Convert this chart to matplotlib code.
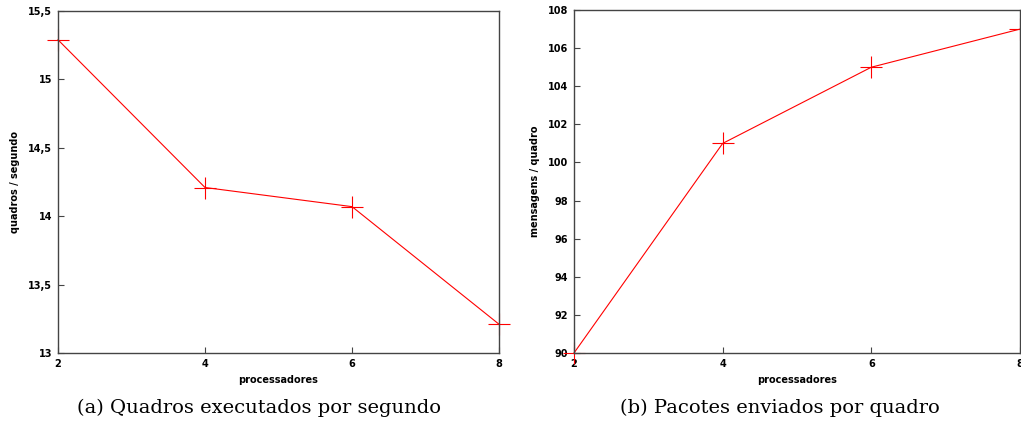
import numpy as np
import matplotlib.pyplot as plt

procs = [2, 4, 6, 8]
quadros = [15.29, 14.21, 14.07, 13.21]
mensagens = [90, 101, 105, 107]

yticks_a = [13, 13.5, 14, 14.5, 15, 15.5]
yticks_b = [90, 92, 94, 96, 98, 100, 102, 104, 106, 108]


def fmt(v):
    s = f"{v:g}"
    return s.replace(".", ",")


def style(ax):
    for sp in ax.spines.values():
        sp.set_color("#444444")
        sp.set_linewidth(1.0)
    ax.tick_params(direction="in", length=4, width=0.8, color="#444444",
                   labelsize=7, pad=4)
    for lab in ax.get_xticklabels() + ax.get_yticklabels():
        lab.set_fontweight("bold")


fig = plt.figure(figsize=(10.21, 4.26), dpi=100)
ax1 = fig.add_axes([0.0568, 0.1714, 0.432, 0.8026])
ax2 = fig.add_axes([0.5622, 0.1714, 0.4368, 0.805])

# (a)
ax1.plot(procs, quadros, color="red", lw=0.8, marker="+", ms=16, mew=0.8,
         clip_on=False)
ax1.set_xlim(2, 8)
ax1.set_ylim(13, 15.5)
ax1.set_xticks(procs)
ax1.set_yticks(yticks_a)
ax1.set_yticklabels([fmt(v) for v in yticks_a])
ax1.set_xlabel("processadores", fontsize=7, fontweight="bold", labelpad=5)
ax1.set_ylabel("quadros / segundo", fontsize=7, fontweight="bold", labelpad=6)
style(ax1)

# (b)
ax2.plot(procs, mensagens, color="red", lw=0.8, marker="+", ms=16, mew=0.8,
         clip_on=False)
ax2.set_xlim(2, 8)
ax2.set_ylim(90, 108)
ax2.set_xticks(procs)
ax2.set_yticks(yticks_b)
ax2.set_xlabel("processadores", fontsize=7, fontweight="bold", labelpad=5)
ax2.set_ylabel("mensagens / quadro", fontsize=7, fontweight="bold", labelpad=6)
style(ax2)

fig.text(0.2537, 0.03, "(a) Quadros executados por segundo", ha="center",
         fontsize=14, family="DejaVu Serif")
fig.text(0.764, 0.03, "(b) Pacotes enviados por quadro", ha="center",
         fontsize=14, family="DejaVu Serif")

fig.savefig("out.png", dpi=100)
